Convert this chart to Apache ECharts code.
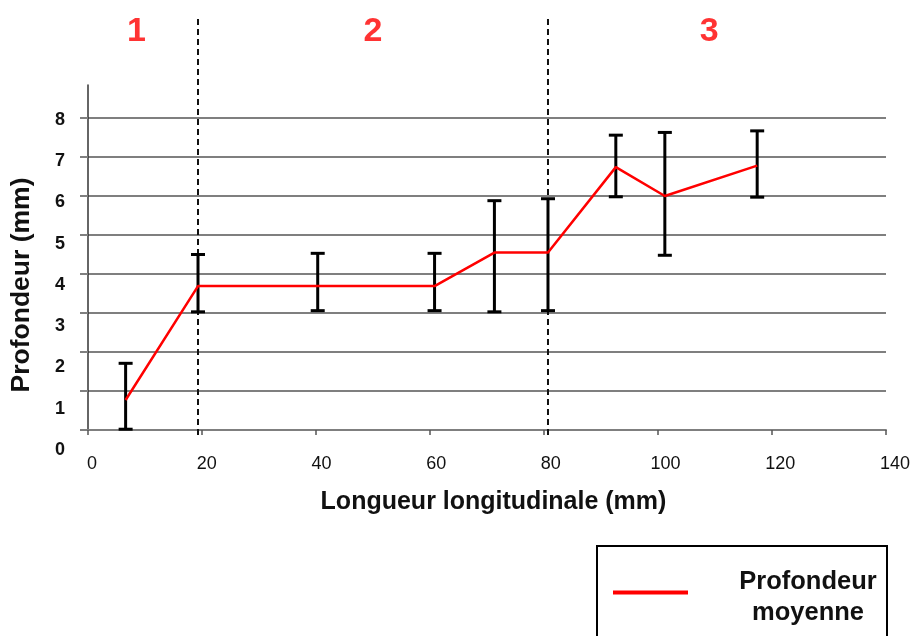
<!DOCTYPE html>
<html>
<head>
<meta charset="utf-8">
<script src="https://cdn.jsdelivr.net/npm/echarts@6/dist/echarts.min.js"></script>
<style>
html,body{margin:0;padding:0;background:#fff;}
#chart{width:915px;height:636px;}
</style>
</head>
<body>
<div id="chart"></div>
<script>
// ---- data ----
const xPos      = [6.6, 19.3, 40.3, 60.8, 71.3, 80.7, 92.6, 101.2, 117.4];
const meanDepth = [0.77, 3.69, 3.69, 3.69, 4.55, 4.55, 6.74, 6.0, 6.78];
const errLow    = [0.02, 3.03, 3.06, 3.06, 3.03, 3.06, 5.98, 4.48, 5.97];
const errHigh   = [1.71, 4.50, 4.53, 4.53, 5.88, 5.93, 7.56, 7.63, 7.67];
const dividers  = [19.3, 80.7];
const zoneNames = ['1', '2', '3'];
const zoneX     = [8.5, 50, 109];
const xTickLabels = ['0', '20', '40', '60', '80', '100', '120', '140'];
const yTickLabels = ['0', '1', '2', '3', '4', '5', '6', '7', '8'];
const seriesName = 'Profondeur moyenne';
const xTitle = 'Longueur longitudinale (mm)';
const yTitle = 'Profondeur (mm)';

const FONT = "'Liberation Sans', Arial, sans-serif";
const GRID_GREY = '#7f7f7f';

const chart = echarts.init(document.getElementById('chart'), null, {renderer: 'canvas'});

const hiddenX = (gi) => ({type: 'value', gridIndex: gi, min: 0, max: 140, show: false});

const option = {
  backgroundColor: '#ffffff',
  animation: false,
  textStyle: {fontFamily: FONT},
  grid: [
    {left: 88, right: 29, top: 118, bottom: 206},  // main plot
    {left: 88, right: 29, top: 85, bottom: 206},   // y axis line
    {left: 88, right: 29, top: 17, bottom: 201},   // dividers + zone labels
    {left: 88, right: 29, top: 120, bottom: 186},  // y tick labels
    {left: 92, right: 20, top: 118, bottom: 206}   // x tick labels + title
  ],
  xAxis: [
    {
      type: 'value', gridIndex: 0, min: 0, max: 140, interval: 20,
      axisLine: {show: true, lineStyle: {color: GRID_GREY, width: 2}},
      axisTick: {show: true, length: 5, lineStyle: {color: '#555', width: 1.5}},
      splitLine: {show: false},
      axisLabel: {show: false}
    },
    hiddenX(1), hiddenX(2), hiddenX(3),
    {
      type: 'value', gridIndex: 4, min: 0, max: 140, interval: 20,
      axisLine: {show: false}, axisTick: {show: false}, splitLine: {show: false},
      axisLabel: {
        margin: 25, fontSize: 18, color: '#111', fontFamily: FONT,
        formatter: (v) => xTickLabels[Math.round(v / 20)]
      },
      name: xTitle, nameLocation: 'middle', nameGap: 60,
      nameTextStyle: {fontSize: 25, fontWeight: 'bold', color: '#111', fontFamily: FONT}
    }
  ],
  yAxis: [
    {
      type: 'value', gridIndex: 0, min: 0, max: 8, interval: 1,
      axisLine: {show: false},
      axisTick: {show: true, length: 8, lineStyle: {color: GRID_GREY, width: 2}},
      splitLine: {show: true, lineStyle: {color: GRID_GREY, width: 2}},
      axisLabel: {show: false}
    },
    {
      type: 'value', gridIndex: 1, min: 0, max: 1,
      axisLine: {show: true, lineStyle: {color: '#333', width: 1.5}},
      axisTick: {show: false}, splitLine: {show: false}, axisLabel: {show: false}
    },
    {type: 'value', gridIndex: 2, min: 0, max: 1, show: false},
    {
      type: 'value', gridIndex: 3, min: 0, max: 8, interval: 1,
      axisLine: {show: false}, axisTick: {show: false}, splitLine: {show: false},
      axisLabel: {
        margin: 23, fontSize: 18, fontWeight: 'bold', color: '#111', fontFamily: FONT,
        formatter: (v) => yTickLabels[Math.round(v)]
      },
      name: yTitle, nameLocation: 'middle', nameGap: 53, nameRotate: 90,
      nameTextStyle: {fontSize: 26.5, fontWeight: 'bold', color: '#111', fontFamily: FONT}
    },
    {type: 'value', gridIndex: 4, min: 0, max: 8, show: false}
  ],
  legend: {
    data: [seriesName],
    left: 597, top: 546,
    orient: 'vertical',
    borderColor: '#000', borderWidth: 2, borderRadius: 0,
    padding: [23, 4, 40, 16],
    icon: 'rect', itemWidth: 75, itemHeight: 4,
    selectedMode: false,
    formatter: () => '{a|Profondeur}\n{a|moyenne}',
    textStyle: {
      padding: [10, 0, 0, 40],
      rich: {
        a: {width: 150, align: 'center', fontSize: 25.5, fontWeight: 'bold', lineHeight: 31, color: '#111', fontFamily: FONT}
      }
    }
  },
  series: [
    {
      type: 'custom', name: 'errors', xAxisIndex: 0, yAxisIndex: 0, z: 3,
      data: xPos.map((x, i) => [x, errLow[i], errHigh[i]]),
      encode: {x: 0, y: [1, 2]},
      renderItem: function (params, api) {
        const x = api.value(0);
        const lo = api.coord([x, api.value(1)]);
        const hi = api.coord([x, api.value(2)]);
        const w = 7;
        const st = {stroke: '#000', lineWidth: 3};
        return {
          type: 'group',
          children: [
            {type: 'line', shape: {x1: lo[0], y1: lo[1], x2: hi[0], y2: hi[1]}, style: st},
            {type: 'line', shape: {x1: lo[0] - w, y1: lo[1], x2: lo[0] + w, y2: lo[1]}, style: st},
            {type: 'line', shape: {x1: hi[0] - w, y1: hi[1], x2: hi[0] + w, y2: hi[1]}, style: st}
          ]
        };
      }
    },
    {
      type: 'line', name: seriesName, xAxisIndex: 0, yAxisIndex: 0, z: 5,
      data: xPos.map((x, i) => [x, meanDepth[i]]),
      symbol: 'none', color: '#ff0000',
      lineStyle: {color: '#ff0000', width: 2.5}
    },
    ...dividers.map((d) => ({
      type: 'line', name: 'div', xAxisIndex: 2, yAxisIndex: 2, z: 2, silent: true,
      data: [[d, 0], [d, 1]], symbol: 'none',
      lineStyle: {color: '#111', width: 2, type: [6, 4]}
    })),
    {
      type: 'scatter', name: 'zones', xAxisIndex: 2, yAxisIndex: 2, symbolSize: 0, silent: true,
      data: zoneX.map((x, i) => ({value: [x, 0.965], name: zoneNames[i]})),
      label: {
        show: true, position: 'inside', formatter: (p) => p.name,
        fontSize: 34, fontWeight: 'bold', color: '#ff0000', fontFamily: FONT
      }
    }
  ]
};
chart.setOption(option);
</script>
</body>
</html>
